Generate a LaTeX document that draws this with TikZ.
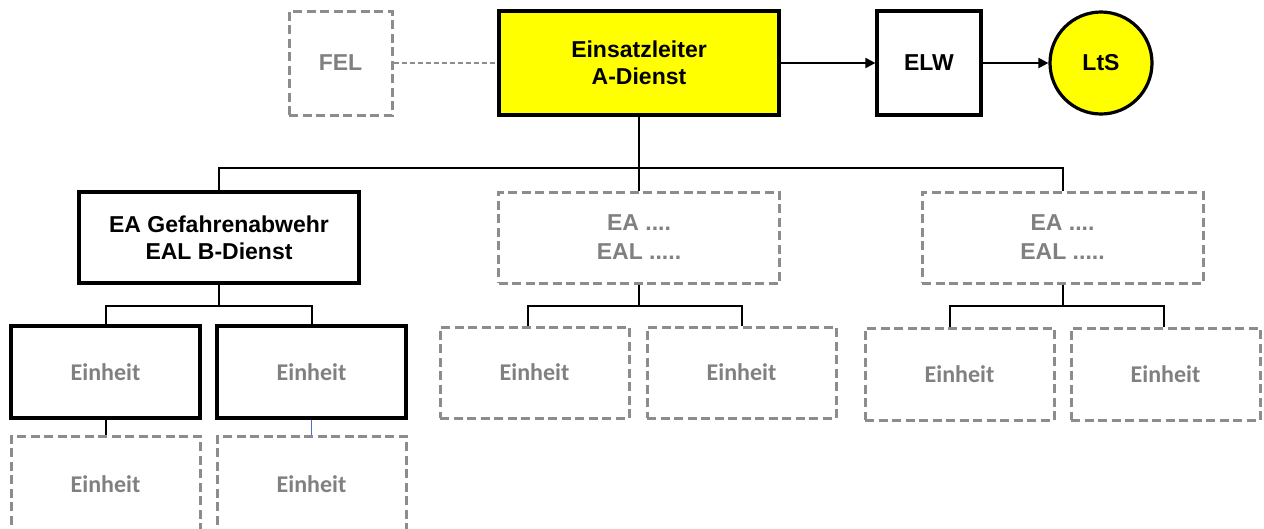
\documentclass[tikz,border=0pt]{standalone}
\usepackage{fontspec}
\setmainfont{Liberation Sans}
\newfontfamily\carlfont{Carlito}
\usetikzlibrary{arrows.meta}
\definecolor{lightgray}{RGB}{128,128,128}
\definecolor{dashgray}{RGB}{140,140,140}
\definecolor{linkblue}{RGB}{68,114,196}
\definecolor{boxyellow}{RGB}{255,255,0}
\tikzset{
  solidbox/.style={draw=black, line width=3.2pt, rectangle, align=center,
    font=\fontsize{23}{27}\selectfont\bfseries, inner sep=0pt},
  dashbox/.style={draw=dashgray, line width=3pt, dash pattern=on 9pt off 4.5pt,
    rectangle, align=center, text=lightgray, inner sep=0pt},
  arialgray/.style={font=\fontsize{23}{29}\selectfont\bfseries},
  carlgray/.style={font=\fontsize{24}{29}\selectfont\carlfont\bfseries},
  conn/.style={draw=black, line width=2pt},
  arrowconn/.style={draw=black, line width=2pt, -{Triangle[length=10pt,width=10pt]}},
}
\begin{document}
\begin{tikzpicture}[x=1pt, y=-1pt]
\clip (0,0) rectangle (1264,528);
\fill[white] (0,0) rectangle (1264,528);

% top row
\node[dashbox, arialgray, minimum width=103pt, minimum height=104pt] (FEL) at (340.5,63) {FEL};
\node[solidbox, fill=boxyellow, minimum width=280pt, minimum height=104pt] (EL) at (639,63) {Einsatzleiter\\A-Dienst};
\node[solidbox, minimum width=104pt, minimum height=104pt] (ELW) at (929,63) {ELW};
\node[solidbox, circle, fill=boxyellow, minimum size=102pt] (LtS) at (1101,63) {LtS};

% EA row
\node[solidbox, minimum width=280pt, minimum height=91pt] (EA1) at (219,237.5) {EA Gefahrenabwehr\\EAL B-Dienst};
\node[dashbox, arialgray, minimum width=281pt, minimum height=91pt] (EA2) at (639,237.5) {EA ....\\EAL .....};
\node[dashbox, arialgray, minimum width=281pt, minimum height=91pt] (EA3) at (1062.5,237.5) {EA ....\\EAL .....};

% Einheit row
\node[solidbox, text=lightgray, carlgray, minimum width=189pt, minimum height=92pt] (U11) at (105.5,372) {Einheit};
\node[solidbox, text=lightgray, carlgray, minimum width=189pt, minimum height=92pt] (U12) at (311.5,372) {Einheit};
\node[dashbox, carlgray, minimum width=189pt, minimum height=91pt] (U21) at (534.5,372.5) {Einheit};
\node[dashbox, carlgray, minimum width=189pt, minimum height=91pt] (U22) at (741.5,372.5) {Einheit};
\node[dashbox, carlgray, minimum width=189pt, minimum height=92pt] (U31) at (959.5,374) {Einheit};
\node[dashbox, carlgray, minimum width=189pt, minimum height=92pt] (U32) at (1165.5,374) {Einheit};

% bottom row (cut off)
\node[dashbox, carlgray, minimum width=189pt, minimum height=96pt, text depth=0pt] (U13) at (105.5,484) {Einheit};
\node[dashbox, carlgray, minimum width=189pt, minimum height=96pt, text depth=0pt] (U14) at (311.5,484) {Einheit};

% connectors top
\draw[dashgray, line width=1.6pt, dash pattern=on 5pt off 3pt] (FEL.east) -- (EL.west);
\draw[arrowconn] (EL.east) -- (ELW.west);
\draw[arrowconn] (ELW.east) -- (LtS.west);

% main bus
\coordinate (bus) at (639,168);
\draw[conn] (EL.south) -- (EA2.north);
\draw[conn] (EA1.north) |- (bus) -| (EA3.north);

% sub buses
\coordinate (b1) at (219,306);
\coordinate (b2) at (639,306);
\coordinate (b3) at (1062.5,306);
\draw[conn] (EA1.south) -- (b1);
\draw[conn] (U11.north) |- (b1) -| (U12.north);
\draw[conn] (EA2.south) -- (b2);
\draw[conn] ([xshift=-7pt]U21.north) |- (b2) -| (U22.north);
\draw[conn] (EA3.south) -- (b3);
\draw[conn] ([xshift=-10pt]U31.north) |- (b3) -| ([xshift=-2pt]U32.north);

% lower links
\draw[conn] (U11.south) -- (U13.north);
\draw[linkblue, line width=1.6pt] (U12.south) -- (U14.north);
\end{tikzpicture}
\end{document}
